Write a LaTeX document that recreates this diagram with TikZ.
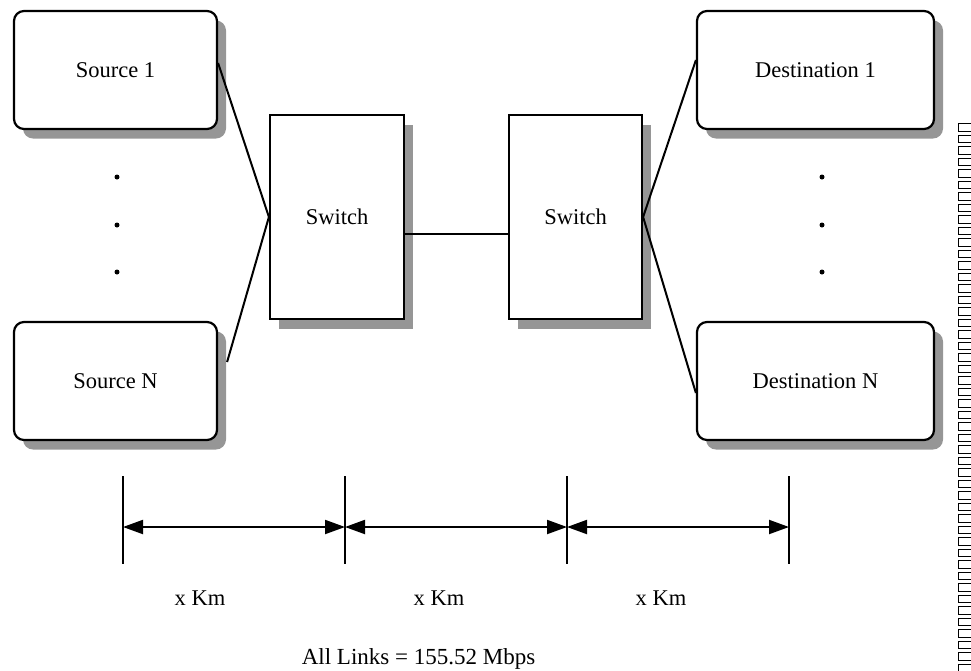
\documentclass[tikz,border=0pt]{standalone}
\usepackage{fontspec}
\setmainfont{Liberation Serif}
\usetikzlibrary{arrows.meta,shadows,calc}
\definecolor{shadowgray}{RGB}{150,150,150}
\tikzset{
  lbl/.style={font=\fontsize{22.5}{26}\selectfont},
  endbox/.style={draw=black, line width=2.2pt, rounded corners=10pt, fill=white,
    inner sep=0pt, lbl,
    drop shadow={shadow xshift=9pt, shadow yshift=-9.5pt, fill=shadowgray, opacity=1}},
  switchbox/.style={draw=black, line width=2.2pt, fill=white, inner sep=0pt, lbl,
    minimum width=134pt, minimum height=204pt,
    drop shadow={shadow xshift=9pt, shadow yshift=-9.5pt, fill=shadowgray, opacity=1}},
  link/.style={line width=2pt},
  dotnode/.style={circle, fill=black, inner sep=0pt, minimum size=5pt},
  tick/.style={line width=2pt},
  dimarrow/.style={line width=2pt, {Triangle[length=20pt,width=14pt]}-{Triangle[length=20pt,width=14pt]}},
  glyphbox/.style={draw=black, line width=1.1pt}
}
\begin{document}
\begin{tikzpicture}[x=1pt,y=-1pt]
\useasboundingbox (0,0) rectangle (971,670);
% end systems
\node[endbox, minimum width=203pt, minimum height=118pt] (s1) at (115.5,70) {Source 1};
\node[endbox, minimum width=203pt, minimum height=118pt] (sN) at (115.5,381) {Source N};
\node[endbox, minimum width=237pt, minimum height=118pt] (d1) at (815.5,70) {Destination 1};
\node[endbox, minimum width=237pt, minimum height=118pt] (dN) at (815.5,381) {Destination N};
% switches
\node[switchbox] (sw1) at (337,217) {Switch};
\node[switchbox, minimum width=133pt] (sw2) at (575.5,217) {Switch};
% dots
\node[dotnode] (ld1) at (117,177) {};
\node[dotnode] (ld2) at (117,225) {};
\node[dotnode] (ld3) at (117,272) {};
\node[dotnode] (rd1) at (822,177) {};
\node[dotnode] (rd2) at (822,225) {};
\node[dotnode] (rd3) at (822,272) {};
% links
\draw[link] ([yshift=7pt]s1.east) -- (sw1.west);
\draw[link] ([xshift=9pt,yshift=19pt]sN.east) -- (sw1.west);
\draw[link] ([yshift=-17pt]sw1.east) -- ([yshift=-17pt]sw2.west);
\draw[link] (sw2.east) -- ([yshift=10pt]d1.west);
\draw[link] (sw2.east) -- ([yshift=-12pt]dN.west);
% dimension ticks
\coordinate (t1a) at (123,476); \coordinate (t1b) at (123,564);
\coordinate (t2a) at (345,476); \coordinate (t2b) at (345,564);
\coordinate (t3a) at (567,476); \coordinate (t3b) at (567,564);
\coordinate (t4a) at (789,476); \coordinate (t4b) at (789,564);
\foreach \t in {t1,t2,t3,t4} \draw[tick] (\t a) -- (\t b);
\coordinate (a1) at (123,527); \coordinate (a2) at (345,527);
\coordinate (a3) at (567,527); \coordinate (a4) at (789,527);
\draw[dimarrow] (a1) -- (a2);
\draw[dimarrow] (a2) -- (a3);
\draw[dimarrow] (a3) -- (a4);
% labels
\node[lbl] (k1) at (200,598) {x Km};
\node[lbl] (k2) at (439,598) {x Km};
\node[lbl] (k3) at (661,598) {x Km};
\node[lbl, font=\fontsize{23}{27}\selectfont] (all) at (418.5,659) {All Links = 155.52 Mbps};
% right-edge column of glyph boxes
\foreach \i in {0,...,47} {
  \draw[glyphbox] (958.5,{123.8+11.5*\i}) rectangle (976,{123.8+11.5*\i+7.5});
}
\end{tikzpicture}
\end{document}
